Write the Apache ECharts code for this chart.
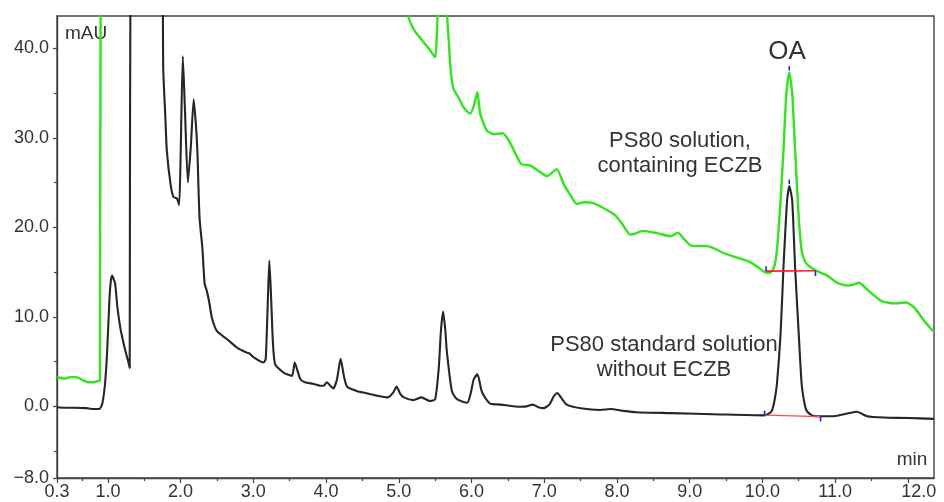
<!DOCTYPE html>
<html>
<head>
<meta charset="utf-8">
<script src="https://cdn.jsdelivr.net/npm/echarts@6/dist/echarts.min.js"></script>
<style>html,body{margin:0;padding:0;background:#fff}#c{width:944px;height:502px}</style>
</head>
<body>
<div id="c"></div>
<script>
// ---- data ----
const xTickValues = [0.3, 1, 2, 3, 4, 5, 6, 7, 8, 9, 10, 11, 12];
const xMinorValues = [0.65, 1.5, 2.5, 3.5, 4.5, 5.5, 6.5, 7.5, 8.5, 9.5, 10.5, 11.5];
const yTickValues = [-8, 0, 10, 20, 30, 40];
const yMinorValues = [-5, 5, 15, 25, 35];

// PS80 standard solution without ECZB (black)
const standardTrace = [
[0.30,-0.1],[0.40,-0.15],[0.55,-0.15],[0.70,-0.2],[0.80,-0.3],[0.88,-0.3],[0.92,0.2],[0.96,2.5],[0.99,6.2],
[1.02,11.8],[1.04,14.0],[1.06,14.6],[1.08,14.2],[1.10,13.7],[1.13,11.1],[1.17,8.8],[1.20,7.6],[1.24,6.2],
[1.28,5.0],[1.30,4.3],[1.315,60],[1.745,60],[1.76,38.0],[1.79,32.3],[1.81,28.6],[1.86,24.9],[1.90,23.4],
[1.95,23.2],[1.98,22.5],[2.00,28.0],[2.03,39.1],[2.06,33.0],[2.10,25.0],[2.14,29.0],[2.18,34.3],[2.21,31.5],
[2.23,28.6],[2.26,21.1],[2.30,17.6],[2.33,13.7],[2.36,12.9],[2.39,11.8],[2.43,9.9],[2.50,8.4],[2.64,7.5],
[2.77,6.6],[2.91,6.0],[2.95,5.9],[3.00,5.5],[3.14,4.9],[3.17,5.3],[3.20,12.0],[3.22,16.3],[3.245,12.0],
[3.27,7.0],[3.30,4.7],[3.41,3.8],[3.53,3.4],[3.57,4.9],[3.61,3.9],[3.65,3.0],[3.71,2.7],[3.83,2.5],
[3.92,2.3],[3.97,2.3],[4.01,2.7],[4.06,2.3],[4.10,2.0],[4.15,3.0],[4.20,5.3],[4.25,3.2],[4.29,2.2],
[4.43,1.7],[4.54,1.5],[4.70,1.2],[4.85,1.0],[4.92,1.5],[4.97,2.2],[5.02,1.4],[5.07,1.0],[5.20,0.7],
[5.31,1.0],[5.43,0.6],[5.50,0.8],[5.55,4.3],[5.58,8.5],[5.61,10.6],[5.64,8.5],[5.66,6.2],[5.73,1.7],
[5.80,0.8],[5.94,0.4],[5.99,1.5],[6.03,3.0],[6.08,3.6],[6.14,1.7],[6.20,0.8],[6.26,0.3],[6.40,0.2],
[6.67,-0.05],[6.76,0.0],[6.84,0.2],[6.92,-0.1],[6.99,-0.2],[7.07,0.2],[7.13,1.1],[7.18,1.5],[7.23,1.0],
[7.31,0.2],[7.50,-0.2],[7.77,-0.4],[7.91,-0.3],[8.09,-0.5],[8.27,-0.65],[8.74,-0.75],[9.43,-0.9],
[10.02,-1.0],[10.08,-0.85],[10.13,-0.5],[10.17,0.8],[10.20,2.5],[10.25,8.1],[10.29,15.5],[10.34,23.0],
[10.37,24.6],[10.41,23.0],[10.45,15.5],[10.50,8.1],[10.54,2.5],[10.58,0.3],[10.61,-0.5],[10.67,-0.95],
[10.73,-1.1],[10.98,-1.1],[11.17,-0.8],[11.30,-0.6],[11.44,-1.1],[11.67,-1.25],[12.0,-1.3],[12.36,-1.4]
];

// PS80 solution, containing ECZB (green)
const eczbTrace = [
[0.30,3.3],[0.34,3.2],[0.41,3.1],[0.50,3.3],[0.59,3.2],[0.66,2.9],[0.73,2.7],[0.80,2.7],[0.85,2.8],
[0.89,2.9],[0.905,60],[5.10,50],[5.13,43.6],[5.18,42.5],[5.23,41.8],[5.32,40.9],[5.41,40.0],[5.50,39.0],
[5.52,41.0],[5.535,44.0],[5.56,50],[5.64,50],[5.665,43.6],[5.69,40.5],[5.71,37.9],[5.75,35.5],[5.82,34.5],
[5.89,33.4],[5.98,32.7],[6.03,33.5],[6.08,35.1],[6.12,32.7],[6.21,30.8],[6.31,30.4],[6.43,30.5],[6.54,29.3],
[6.68,27.1],[6.81,26.9],[6.92,26.3],[7.04,25.7],[7.17,26.5],[7.27,24.8],[7.36,23.6],[7.45,22.6],[7.55,22.8],
[7.65,22.75],[7.78,22.3],[7.91,21.7],[7.98,21.3],[8.07,20.4],[8.18,19.2],[8.25,19.3],[8.35,19.6],[8.55,19.35],
[8.74,19.0],[8.84,19.4],[8.92,18.7],[9.01,18.0],[9.10,17.9],[9.24,17.9],[9.35,17.6],[9.47,17.1],[9.58,16.8],
[9.70,16.5],[9.81,16.2],[9.93,15.6],[10.03,15.0],[10.08,14.9],[10.13,15.1],[10.17,15.8],[10.20,17.4],
[10.25,23.0],[10.29,28.6],[10.33,35.0],[10.37,37.3],[10.41,35.0],[10.45,28.6],[10.50,21.1],[10.54,17.4],
[10.58,16.3],[10.61,15.9],[10.67,15.5],[10.73,15.2],[10.89,14.6],[11.03,13.8],[11.17,13.5],[11.25,13.6],
[11.33,13.8],[11.41,13.3],[11.49,12.7],[11.63,11.8],[11.72,11.6],[11.81,11.5],[11.97,11.6],[12.08,11.1],
[12.15,10.4],[12.22,9.6],[12.36,8.3]
];

// integration baselines (red) and peak delimiters (blue)
const eczbBaseline = [[10.05,15.1],[10.73,15.15]];
const standardBaseline = [[10.03,-0.98],[10.80,-1.14]];
const blueMarks = [
  [[10.05,15.1],[10.05,15.65]],
  [[10.73,15.15],[10.73,14.55]],
  [[10.37,37.5],[10.37,38.0]],
  [[10.03,-0.5],[10.03,-1.05]],
  [[10.80,-1.15],[10.80,-1.7]],
  [[10.37,24.85],[10.37,25.3]]
];

// ---- chart ----
const FONT = "'Liberation Sans', Arial, sans-serif";
const TXT = '#333';
const AX = '#444';
const chart = echarts.init(document.getElementById('c'), null, {renderer:'canvas'});

const baseX = {type:'value', min:0.3, max:12.36, position:'bottom', splitLine:{show:false}};
const baseY = {type:'value', min:-8, max:43.6, position:'left', splitLine:{show:false}};

const series = [
  {type:'line', data: eczbTrace, showSymbol:false, smooth:0.2, lineStyle:{color:'#2ee61a', width:2.4}, z:2, silent:true, animation:false},
  {type:'line', data: standardTrace, showSymbol:false, smooth:0.2, lineStyle:{color:'#262626', width:2.1}, z:3, silent:true, animation:false},
  {type:'line', data: eczbBaseline, showSymbol:false, lineStyle:{color:'#ff1a1a', width:1.6}, z:4, animation:false},
  {type:'line', data: standardBaseline, showSymbol:false, lineStyle:{color:'#ff4a4a', width:1.3}, z:4, animation:false}
];
blueMarks.forEach(seg => series.push({type:'line', data: seg, showSymbol:false, lineStyle:{color:'#1a1aff', width:1.6}, z:5, animation:false}));

chart.setOption({
  animation:false,
  backgroundColor:'#fff',
  grid:{left:57, right:10, top:16, bottom:24, show:true, borderColor:AX, borderWidth:1.4, outerBoundsMode:'none'},
  xAxis:[
    Object.assign({}, baseX, {
      axisLine:{show:true, onZero:false, lineStyle:{color:AX, width:1.4}},
      axisTick:{show:true, length:5, customValues:xTickValues, lineStyle:{color:AX, width:1.2}},
      axisLabel:{show:true, customValues:xTickValues, margin:5, color:TXT, fontSize:18, fontFamily:FONT,
        formatter: v => Math.abs(v-12) < 1e-9 ? '{s|12.0}' : v.toFixed(1),
        rich:{s:{padding:[0,0,0,22], fontSize:18, fontFamily:FONT, color:TXT}}}
    }),
    Object.assign({}, baseX, {
      axisLine:{show:false, onZero:false},
      axisTick:{show:true, length:3, customValues:xMinorValues, lineStyle:{color:AX, width:1.2}},
      axisLabel:{show:false}
    })
  ],
  yAxis:[
    Object.assign({}, baseY, {
      axisLine:{show:true, onZero:false, lineStyle:{color:AX, width:1.4}},
      axisTick:{show:true, length:4, customValues:yTickValues, lineStyle:{color:AX, width:1.2}},
      axisLabel:{show:true, customValues:yTickValues, margin:8, color:TXT, fontSize:18, fontFamily:FONT,
        formatter: v => (v < 0 ? '\u2212' : '') + Math.abs(v).toFixed(1)}
    }),
    Object.assign({}, baseY, {
      axisLine:{show:false, onZero:false},
      axisTick:{show:true, length:3, customValues:yMinorValues, lineStyle:{color:AX, width:1.2}},
      axisLabel:{show:false}
    })
  ],
  graphic:[
    {type:'text', left:65, top:24, style:{text:'mAU', fontSize:19, fontFamily:FONT, fill:TXT}},
    {type:'text', x:912, y:460, style:{text:'min', fontSize:19, fontFamily:FONT, fill:TXT, align:'center', verticalAlign:'middle'}},
    {type:'text', x:787, y:52, style:{text:'OA', fontSize:26, fontFamily:FONT, fill:TXT, align:'center', verticalAlign:'middle'}},
    {type:'text', x:680, y:153, style:{text:'PS80 solution,\ncontaining ECZB', fontSize:22, lineHeight:25, fontFamily:FONT, fill:TXT, align:'center', verticalAlign:'middle'}},
    {type:'text', x:664, y:357, style:{text:'PS80 standard solution\nwithout ECZB', fontSize:22, lineHeight:25, fontFamily:FONT, fill:TXT, align:'center', verticalAlign:'middle'}}
  ],
  series: series
});
</script>
</body>
</html>
